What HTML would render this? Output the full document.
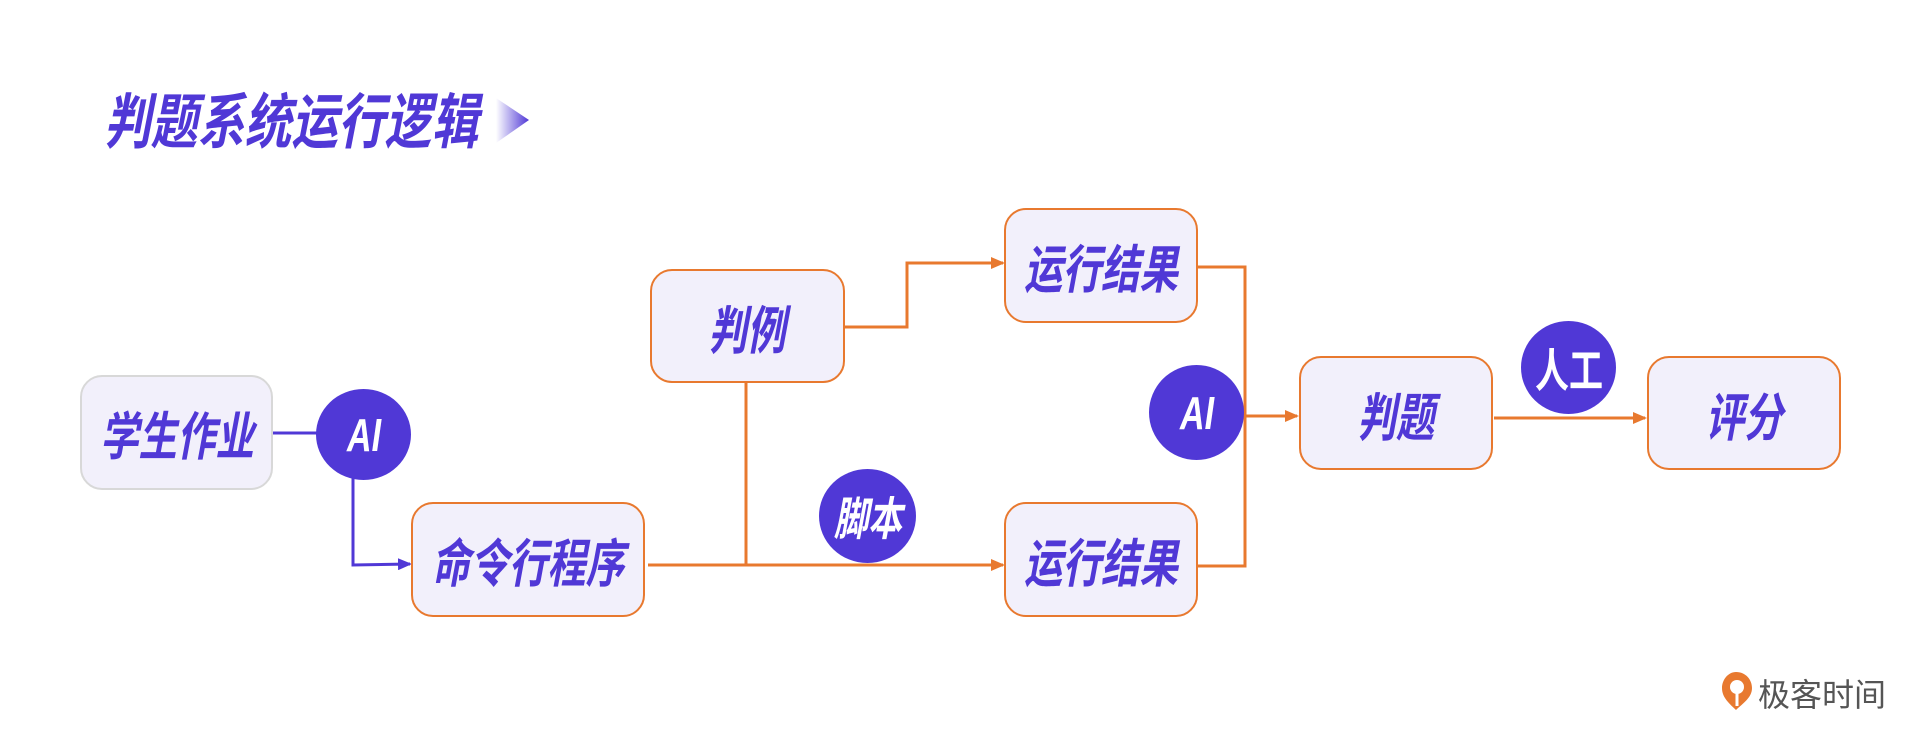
<!DOCTYPE html>
<html><head><meta charset="utf-8"><style>
body{margin:0;width:1920px;height:740px;background:#fff;overflow:hidden;position:relative;font-family:"Liberation Sans","Noto Sans CJK SC",sans-serif}
.t{position:absolute;color:#5038d6;font-weight:bold;font-style:italic;white-space:nowrap;transform:scaleX(0.78);transform-origin:0 0}
.b{position:absolute;box-sizing:border-box;background:#f2f0fb;border:2px solid #e8792f;border-radius:22px;display:flex;align-items:center;justify-content:center;color:#5038d6;font-weight:bold;font-style:italic;font-size:52px;white-space:nowrap}
.b span,.c span{display:inline-block;transform:scaleX(0.74)}
.c{position:absolute;border-radius:50%;background:#5038d6;color:#fff;display:flex;align-items:center;justify-content:center;font-weight:bold;font-style:italic;font-size:46px;white-space:nowrap}
</style></head><body>
<div class="t" style="left:104px;top:74px;font-size:60px">判题系统运行逻辑</div>
<svg width="1920" height="740" style="position:absolute;left:0;top:0">
<defs><linearGradient id="g" x1="0" x2="1"><stop offset="0" stop-color="#5038d6" stop-opacity="0"/><stop offset="1" stop-color="#5038d6"/></linearGradient>
<marker id="ao" markerWidth="14" markerHeight="12" refX="12" refY="6" orient="auto" markerUnits="userSpaceOnUse"><path d="M0,0L14,6L0,12z" fill="#e8792f"/></marker>
<marker id="ap" markerWidth="14" markerHeight="12" refX="12" refY="6" orient="auto" markerUnits="userSpaceOnUse"><path d="M0,0L14,6L0,12z" fill="#5038d6"/></marker></defs>
<path d="M496,98L529,120L496,143z" fill="url(#g)"/>
<g fill="none" stroke-width="3">
<path d="M273,433H330" stroke="#5038d6"/>
<path d="M353,470V565L410,564" stroke="#5038d6" marker-end="url(#ap)"/>
<g stroke="#e8792f">
<path d="M648,565H1003" marker-end="url(#ao)"/>
<path d="M746,383V565"/>
<path d="M845,327H907V263H1003" marker-end="url(#ao)"/>
<path d="M1198,267H1245V566H1198"/>
<path d="M1245,416H1297" marker-end="url(#ao)"/>
<path d="M1494,418H1645" marker-end="url(#ao)"/>
</g></g>
<g transform="translate(1722,672)"><path d="M14,0C24,0 30,8 30,16C30,26 20,32 14,38C8,32 0,26 0,16C0,8 6,0 14,0z" fill="#e8792f"/><circle cx="15" cy="15" r="7" fill="#fff"/><path d="M15,18V34" stroke="#fff" stroke-width="3"/></g>
</svg>
<div style="position:absolute;left:1758px;top:670px;font-size:32px;color:#555;font-family:'Noto Sans CJK SC',sans-serif">极客时间</div>
<div class="b" style="left:80px;top:375px;width:193px;height:115px;border-color:#d8d8d8"><span>学生作业</span></div>
<div class="b" style="left:411px;top:502px;width:234px;height:115px"><span>命令行程序</span></div>
<div class="b" style="left:650px;top:269px;width:195px;height:114px"><span>判例</span></div>
<div class="b" style="left:1004px;top:208px;width:194px;height:115px"><span>运行结果</span></div>
<div class="b" style="left:1004px;top:502px;width:194px;height:115px"><span>运行结果</span></div>
<div class="b" style="left:1299px;top:356px;width:194px;height:114px"><span>判题</span></div>
<div class="b" style="left:1647px;top:356px;width:194px;height:114px"><span>评分</span></div>
<div class="c" style="left:316px;top:389px;width:95px;height:91px"><span>AI</span></div>
<div class="c" style="left:1149px;top:365px;width:95px;height:95px"><span>AI</span></div>
<div class="c" style="left:1521px;top:321px;width:95px;height:93px;font-style:normal"><span>人工</span></div>
<div class="c" style="left:819px;top:469px;width:97px;height:94px"><span>脚本</span></div>
</body></html>
